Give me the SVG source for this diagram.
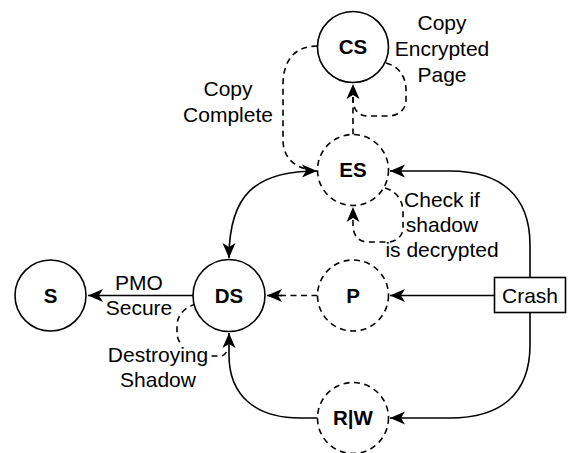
<svg xmlns="http://www.w3.org/2000/svg" width="570" height="453" viewBox="0 0 570 453">
<style>
.n{fill:#fff;stroke:#000;stroke-width:1.6}
.d{stroke-dasharray:6 4.5}
.e{fill:none;stroke:#000;stroke-width:1.6}
.t{font-family:"Liberation Sans",Arial,Helvetica,sans-serif;font-size:21px;fill:#000;text-anchor:middle}
.b{font-weight:bold;font-size:20.5px}
</style>
<defs>
<marker id="a" markerUnits="userSpaceOnUse" viewBox="0 0 16 14" refX="15" refY="7" markerWidth="16" markerHeight="14" orient="auto-start-reverse">
<path d="M0,0.5 L15,7 L0,13.5 L4,7 Z" fill="#000"/>
</marker>
</defs>
<g id="connectors">
<path class="e" d="M193.5,295.5 H88" marker-end="url(#a)"/>
<path class="e d" d="M317.5,295.5 H267"/>
<path class="e" d="M282,295.5 H267" marker-end="url(#a)"/>
<path class="e" d="M494.5,295.5 H390" marker-end="url(#a)"/>
<path class="e" d="M530,277.5 V245 C530,195 500,171 450,171 H390" marker-end="url(#a)"/>
<path class="e" d="M530,312.5 V345 C530,395 500,418 450,418 H390" marker-end="url(#a)"/>
<path class="e" d="M318,418 H300 C255,418 229,395 229,355 V333" marker-end="url(#a)"/>
<path class="e" d="M229,258 C229,195 255,171 317,171" marker-start="url(#a)" marker-end="url(#a)"/>
<path class="e d" d="M353,134.5 V84" marker-end="url(#a)"/>
<path class="e d" d="M386,63 C398,66 406,76 406,90 V100 C406,110 398,116 388,116 H368 C358,116 353,110 353,97"/>
<path class="e d" d="M317.5,46 C295,46 283,60 283,85 V140 C283,158 295,168 312,170"/>
<path class="e d" d="M385,188 C396,191 403,200 403,212 V228 C403,236 396,242 388,242 H368 C359,242 353,236 353,225 V207" marker-end="url(#a)"/>
<path class="e d" d="M196,304 C185,307 177,315 177,326 V333 C177,345 190,354 205,356 H219 C224,356 226,354 227,350"/>
</g>
<g id="S"><circle class="n" cx="50.5" cy="295.5" r="35.5"/><text class="t b" x="50.5" y="302.8">S</text></g>
<g id="DS"><circle class="n" cx="229" cy="295.5" r="36"/><text class="t b" x="229" y="302.8">DS</text></g>
<g id="P"><circle class="n d" cx="353" cy="295.5" r="35.5"/><text class="t b" x="353" y="302.8">P</text></g>
<g id="ES"><circle class="n d" cx="353" cy="170" r="35.5"/><text class="t b" x="353" y="177.3">ES</text></g>
<g id="CS"><circle class="n" cx="353" cy="47" r="35.5"/><text class="t b" x="353" y="54.3">CS</text></g>
<g id="RW"><circle class="n d" cx="353" cy="418" r="35.5"/><text class="t b" x="353" y="425.3">R|W</text></g>
<g id="Crash"><rect class="n" x="494.5" y="277.5" width="71" height="35"/><text class="t" x="530" y="302.8">Crash</text></g>
<g id="labels">
<text class="t" x="139" y="289.5">PMO</text>
<text class="t" x="139" y="315">Secure</text>
<text class="t" x="228" y="96">Copy</text>
<text class="t" x="228" y="121.5">Complete</text>
<text class="t" x="442" y="30">Copy</text>
<text class="t" x="442" y="56">Encrypted</text>
<text class="t" x="442" y="81.5">Page</text>
<text class="t" x="442" y="206.7">Check if</text>
<text class="t" x="442" y="231.7">shadow</text>
<text class="t" x="442" y="256.7">is decrypted</text>
<rect x="106" y="345" width="104" height="21" fill="#fff"/>
<text class="t" x="158" y="362">Destroying</text>
<text class="t" x="158" y="387">Shadow</text>
</g>
</svg>
